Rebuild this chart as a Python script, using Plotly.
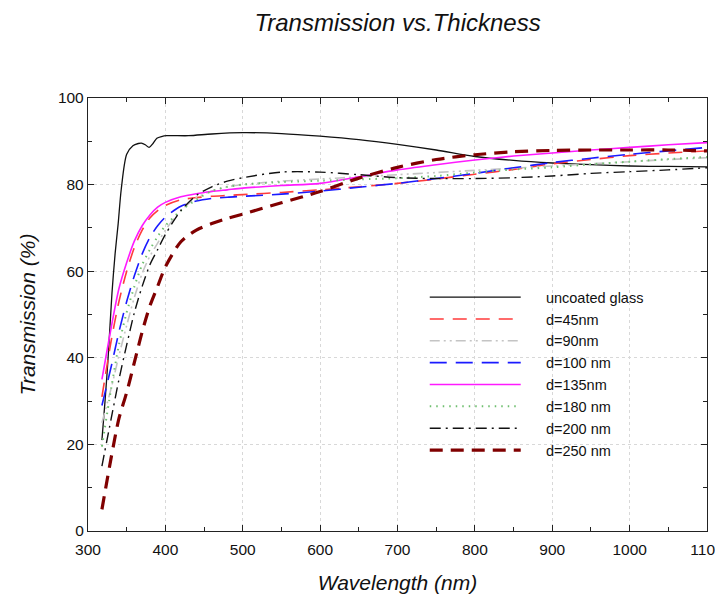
import plotly.graph_objects as go

# ---- data ----
wl_glass = [318, 322, 326, 331, 335, 339, 343, 350, 358, 365, 369, 374, 379, 384, 389, 395, 402, 430, 460, 500, 550, 600, 650, 700, 750, 800, 850, 900, 950, 1000, 1050, 1100]
t_glass = [21, 30, 40, 55, 64, 71, 79, 87, 89, 89.5, 89.6, 89.2, 88.6, 89.5, 90.7, 91.1, 91.3, 91.3, 91.7, 92.0, 91.8, 91.2, 90.4, 89.3, 88.0, 86.5, 85.6, 85.0, 84.6, 84.3, 84.2, 84.1]

wl = [318, 330, 340, 350, 360, 370, 380, 390, 400, 420, 440, 460, 480, 500, 550, 600, 650, 700, 750, 800, 850, 900, 950, 1000, 1050, 1100]
t_45 = [31, 44, 53, 60, 65.5, 69.5, 72.3, 74, 75.2, 76.5, 77.0, 77.3, 77.5, 77.7, 78.2, 78.8, 79.5, 80.3, 81.3, 82.4, 83.5, 84.8, 85.8, 86.7, 87.3, 87.8]
t_90 = [25, 33, 40.5, 47.5, 54, 59.5, 63.5, 66.5, 69.5, 74, 77, 78.5, 79.5, 80, 80.8, 81.3, 81.8, 82.3, 82.8, 83.3, 83.8, 84.3, 84.8, 85.3, 85.8, 86.2]
t_100 = [29, 38, 46, 53, 59, 64, 67.8, 70.5, 72.5, 75, 76.2, 76.8, 77.1, 77.3, 77.8, 78.5, 79.4, 80.3, 81.4, 82.6, 83.9, 85.1, 86.1, 87.0, 87.8, 88.6]
t_135 = [35, 47, 56, 62, 67, 70.5, 73, 74.8, 75.9, 77.2, 77.9, 78.4, 78.8, 79.2, 79.8, 80.3, 81.8, 83.4, 84.6, 85.7, 86.6, 87.3, 88.0, 88.6, 89.2, 89.7]
t_180 = [19.5, 33, 43, 50.5, 56.5, 61.5, 65, 68, 70.5, 74, 76.5, 78.5, 79.5, 80, 80.6, 80.9, 81.2, 81.5, 82, 82.8, 83.5, 84, 84.7, 85.3, 85.9, 86.4]
t_200 = [15, 26, 35, 43, 50.5, 56.5, 61.5, 65, 68.5, 74, 77.5, 79.5, 80.8, 81.6, 82.9, 82.9, 82.3, 81.6, 81.4, 81.4, 81.6, 82.0, 82.6, 83.0, 83.4, 83.9]
t_250 = [5, 17, 26, 32, 39, 46, 52, 56.5, 61, 66.8, 69.5, 71.0, 72.2, 73.2, 75.8, 78.4, 81.5, 84.0, 85.8, 86.9, 87.6, 87.9, 88.0, 88.0, 88.0, 87.8]

series_names = ["uncoated glass", "d=45nm", "d=90nm", "d=100 nm", "d=135nm", "d=180 nm", "d=200 nm", "d=250 nm"]
x_ticks = [300, 400, 500, 600, 700, 800, 900, 1000, 1100]
y_ticks = [0, 20, 40, 60, 80, 100]

styles = [
    dict(color="#111111", width=1.3, dash="solid"),
    dict(color="#ff3b3b", width=1.6, dash="14px,9px"),
    dict(color="#c4c4c4", width=1.6, dash="10px,4px,2px,4px,2px,4px"),
    dict(color="#1a1aff", width=1.6, dash="17px,9px"),
    dict(color="#ff1aff", width=1.6, dash="solid"),
    dict(color="#6fbf6f", width=2.0, dash="1.5px,5px"),
    dict(color="#111111", width=1.4, dash="11px,5px,2px,5px"),
    dict(color="#800000", width=3.2, dash="13px,8px"),
]

xs = [wl_glass] + [wl] * 7
ys = [t_glass, t_45, t_90, t_100, t_135, t_180, t_200, t_250]

pad = "\u00a0" * 5
fig = go.Figure()
for name, x, y, st in zip(series_names, xs, ys, styles):
    fig.add_trace(go.Scatter(x=x, y=y, name=pad + name, mode="lines",
                             line=dict(shape="spline", smoothing=0.8, **st)))

font = "Liberation Sans, Arial, sans-serif"
# the page body has an 8px margin, so the figure is sized to fill the rest of the window
fig.update_layout(
    width=715, height=588,
    margin=dict(l=80, r=16, t=90, b=65),
    paper_bgcolor="white", plot_bgcolor="white",
    font=dict(family=font, size=15.5, color="#111111"),
    title=dict(text="<i>Transmission vs.Thickness</i>", x=0.5448, xanchor="center",
               y=0.975, yanchor="middle", font=dict(size=24, color="#111111")),
    legend=dict(x=0.544, y=0.577, xanchor="left", yanchor="top",
                bgcolor="rgba(0,0,0,0)", itemwidth=91,
                font=dict(size=14.5), tracegroupgap=0),
    showlegend=True,
)
axis_common = dict(showline=True, linecolor="#222222", linewidth=1.3, mirror="allticks",
                   ticks="inside", ticklen=6, tickcolor="#222222",
                   showgrid=True, gridcolor="#d8d8d8", griddash="dot", gridwidth=1,
                   zeroline=False, automargin=False, ticklabeloverflow="allow")
fig.update_xaxes(range=[299.99, 1100.01], tickvals=x_ticks, ticktext=[str(v) for v in x_ticks],
                 minor=dict(dtick=50, ticks="inside", ticklen=4, tickcolor="#222222", showgrid=False),
                 ticklabelstandoff=4,
                 title=dict(text="<i>Wavelength (nm)</i>", font=dict(size=21), standoff=18),
                 **axis_common)
fig.update_yaxes(range=[0, 100.01], tickvals=y_ticks, ticktext=[str(v) for v in y_ticks],
                 minor=dict(dtick=10, ticks="inside", ticklen=4, tickcolor="#222222", showgrid=False),
                 title=dict(text="<i>Transmission (%)</i>", font=dict(size=21), standoff=16),
                 **axis_common)

fig.write_html("out.html")
